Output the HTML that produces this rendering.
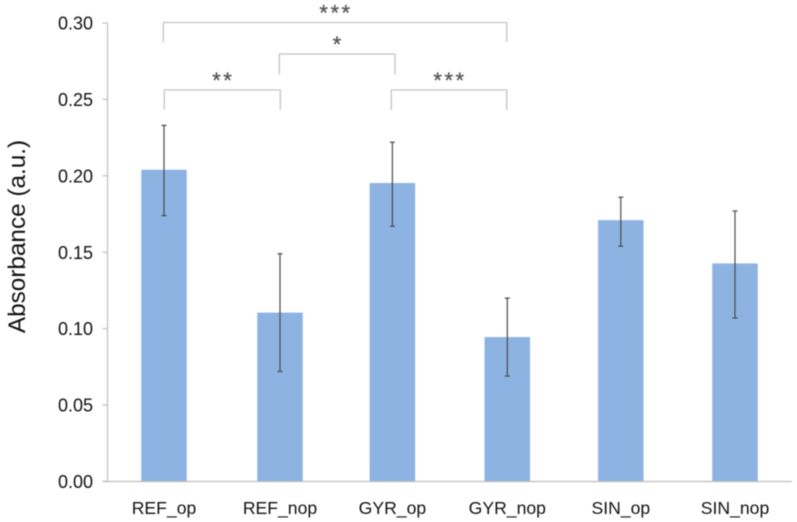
<!DOCTYPE html>
<html>
<head>
<meta charset="utf-8">
<title>Absorbance chart</title>
<style>
html,body{margin:0;padding:0;background:#fff;width:797px;height:522px;overflow:hidden}
svg{display:block;filter:blur(0.45px)}
text{font-family:"Liberation Sans",sans-serif;fill:#111}
</style>
</head>
<body>
<svg id="chart" width="797" height="522" viewBox="0 0 797 522" xmlns="http://www.w3.org/2000/svg"></svg>
<script>
const categories = ['REF_op', 'REF_nop', 'GYR_op', 'GYR_nop', 'SIN_op', 'SIN_nop'];
const absorbance = [0.204, 0.1105, 0.1953, 0.0945, 0.171, 0.1427];
const errorUpper = [0.233, 0.149, 0.222, 0.120, 0.186, 0.177];
const errorLower = [0.174, 0.072, 0.167, 0.069, 0.154, 0.107];
const yTicks = ['0.00', '0.05', '0.10', '0.15', '0.20', '0.25', '0.30'];
const bracketFrom = [0, 1, 0, 2];
const bracketTo = [3, 2, 1, 3];
const bracketTop = [0.3003, 0.2797, 0.2562, 0.2562];
const bracketBottom = [0.2876, 0.2663, 0.2431, 0.2431];
const bracketStars = ['***', '*', '**', '***'];

const svg = document.getElementById('chart');
const NS = 'http://www.w3.org/2000/svg';
const axisX = 107.5, baseY = 481.5, topY = 23, axisEnd = 792;
const firstCenter = 164, step = 114.2, barW = 45.5;
const yMax = 0.30;
const y = v => baseY - (v / yMax) * (baseY - topY);
const nudge = i => (i === 1 ? 1.8 : i === 3 ? 0.7 : 0);
const x = i => firstCenter + step * i + nudge(i);
const bracketInset = (i, side) => {
  if (side === 'left') return i === 0 ? -0.7 : i === 1 ? -0.7 : i === 2 ? 0.3 : -1.1;
  return i === 0 ? -0.6 : i === 1 ? 2.6 : i === 2 ? 0.3 : -0.6;
};

function el(tag, attrs, text) {
  const n = document.createElementNS(NS, tag);
  for (const k in attrs) n.setAttribute(k, attrs[k]);
  if (text !== undefined) n.textContent = text;
  svg.appendChild(n);
  return n;
}

categories.forEach((c, i) => {
  const bar = el('rect', {x: x(i) - barW / 2, y: y(absorbance[i]), width: barW, height: baseY - y(absorbance[i]), fill: '#8db3e2'});
  
  
});

const yAxis = el('line', {x1: axisX, y1: topY, x2: axisX, y2: baseY, stroke: '#bdbdbd', 'stroke-width': 1.2});


const xAxis = el('line', {x1: axisX - 5, y1: baseY, x2: axisEnd, y2: baseY, stroke: '#bdbdbd', 'stroke-width': 1.2});



yTicks.forEach(t => {
  const py = y(parseFloat(t));
  const tick = el('line', {x1: axisX - 5, y1: py, x2: axisX, y2: py, stroke: '#bdbdbd', 'stroke-width': 1.2});
  
  
  const label = el('text', {x: 93, y: py + 6.5, 'text-anchor': 'end', 'font-size': 18}, t);
  
  
});

categories.forEach((c, i) => {
  const g = el('g', {});
  
  
  const attrs = {stroke: '#4a4a4a', 'stroke-width': 1.2};
  const parts = [
    [x(i), y(errorUpper[i]), x(i), y(errorLower[i])],
    [x(i) - 2.5, y(errorUpper[i]), x(i) + 2.5, y(errorUpper[i])],
    [x(i) - 2.5, y(errorLower[i]), x(i) + 2.5, y(errorLower[i])]
  ];
  parts.forEach(p => {
    const l = el('line', Object.assign({x1: p[0], y1: p[1], x2: p[2], y2: p[3]}, attrs));
    g.appendChild(l);
  });
  const label = el('text', {x: x(i), y: 514, 'text-anchor': 'middle', 'font-size': 17.6}, c);
  
  
});

bracketStars.forEach((s, i) => {
  const x1 = x(bracketFrom[i]) + bracketInset(i, 'left');
  const x2 = x(bracketTo[i]) + bracketInset(i, 'right');
  const yT = y(bracketTop[i]), yB = y(bracketBottom[i]);
  const p = el('path', {d: `M${x1} ${yB}V${yT}H${x2}V${yB}`, fill: 'none', stroke: '#bfbfbf', 'stroke-width': 1.2});
  
  
  const t = el('text', {x: (x1 + x2) / 2 + 1, y: yT - 2, 'text-anchor': 'middle', 'font-size': 22, 'letter-spacing': 2.5, stroke: '#555', 'stroke-width': 0.3, style: 'fill:#555'}, s);
  
  
});

const title = el('text', {x: 0, y: 0, transform: 'translate(25,236.5) rotate(-90)', 'text-anchor': 'middle', 'font-size': 24.3}, 'Absorbance (a.u.)');


</script>
</body>
</html>
